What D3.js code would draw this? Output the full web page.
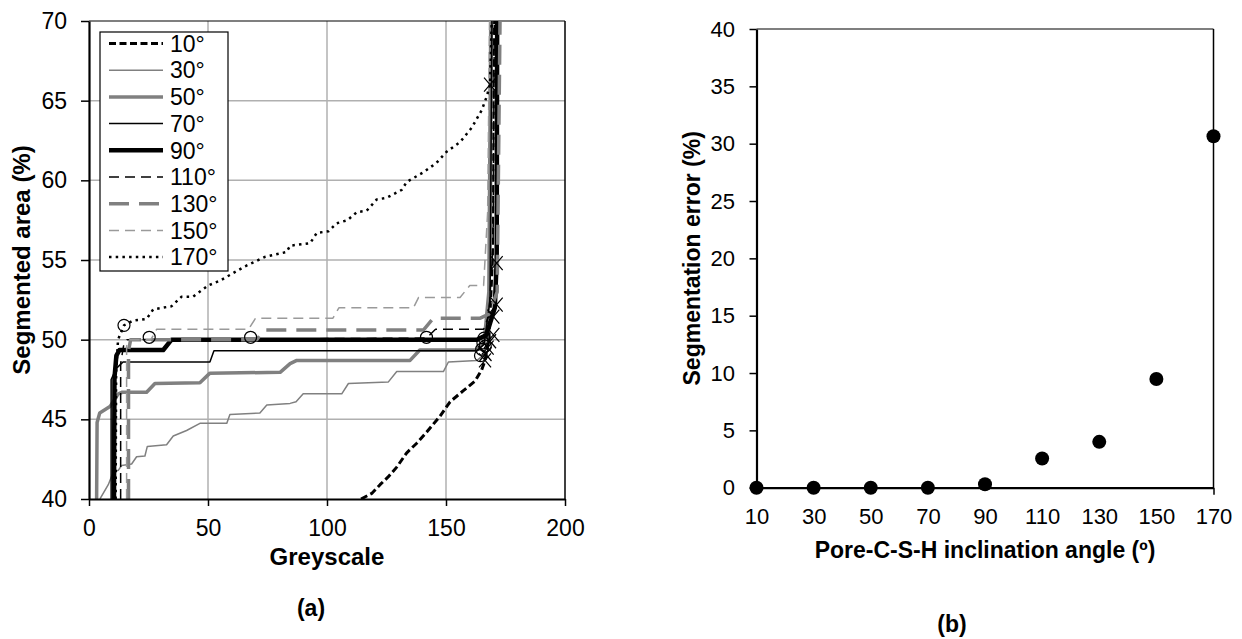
<!DOCTYPE html>
<html>
<head>
<meta charset="utf-8">
<script src="https://cdn.jsdelivr.net/npm/d3@7"></script>
<style>
  body { margin: 0; background: #fff; }
  svg { display: block; font-family: "Liberation Sans", Arial, sans-serif; }
</style>
</head>
<body>
<script>
// ---- data (a): segmented area vs greyscale, one curve per angle ----
var angleNames = ['10°', '30°', '50°', '70°', '90°', '110°', '130°', '150°', '170°'];

var s10 = [[114.3,40],[118.8,40.35],[122.3,40.9],[125.8,41.4],[129.3,42.0],[133.5,42.9],[137.7,43.5],[141.9,44.2],[147.5,45.2],[151.7,46.1],[157.3,46.8],[162.2,47.4],[165,48.1],[166.4,48.7],[168,50],[169.5,55],[170,70]];
var s30 = [[4.6,40],[8.1,40.9],[10.2,41.7],[12.3,41.8],[13.7,42.1],[17.9,42.2],[20,42.65],[23.5,42.7],[24.5,43.3],[32.6,43.4],[35.4,43.95],[41,44.3],[46.6,44.75],[57.9,44.75],[59.2,45.3],[71.8,45.4],[74.7,45.9],[84.5,46.0],[87,46.1],[90,46.6],[106.2,46.6],[109,47.25],[125.8,47.35],[129.3,48.0],[148.9,48.0],[151,48.6],[163,48.7],[165.5,49.0],[167.5,50],[169,56],[169.5,70]];
var s50 = [[3.2,40],[3.4,44.8],[4.5,45.4],[8.8,45.8],[12.3,46.6],[14,46.7],[24.2,46.7],[27.7,47.25],[46.6,47.3],[50.8,47.9],[80.3,47.95],[84.5,48.5],[87.3,48.7],[134.9,48.7],[139,49.35],[162.8,49.35],[166,49.8],[168,53],[168.8,70]];
var s70 = [[9.3,40],[9.3,47.5],[11.5,48.2],[14.3,48.6],[50.8,48.6],[52.5,49.3],[162.8,49.3],[166,49.7],[168.5,52.5],[169.3,70]];
var s90 = [[10.5,40],[10.7,47.6],[11.5,49.0],[12.8,49.35],[31.2,49.35],[34.7,50.0],[163,50],[167,50.3],[170.5,52],[171.3,55],[171.5,70]];
var s110 = [[13.3,40],[13.3,48.5],[14.5,49.6],[16,50],[141.8,50.1],[145.6,50.65],[165.8,50.65],[168,51.5],[169.8,56],[170.3,70]];
var s130 = [[16.6,40],[16.6,49.3],[17.5,50],[70.5,50],[73.5,50.6],[140.5,50.6],[144.7,51.35],[164.4,51.35],[168,51.6],[171.5,53],[172.7,70]];
var s150 = [[15.8,40],[15.8,49.6],[17,50],[26,50],[28.4,50.65],[67,50.65],[70,51.35],[102.5,51.35],[105,52.0],[136.3,52.0],[138.5,52.65],[155.9,52.65],[160,53.4],[165.8,53.4],[167.5,58],[168.3,70]];
var s170 = [[11.2,40],[11.4,47.9],[12.2,50],[14.7,50.9],[18.6,51.2],[24.2,51.3],[27,51.9],[34.7,52.1],[38.9,52.7],[43.8,52.7],[50.1,53.4],[55,53.7],[65.5,54.6],[74,55.2],[83,55.5],[84.5,55.9],[92.9,56.05],[95.7,56.7],[100.6,56.8],[104,57.3],[108.6,57.5],[112.5,58.0],[116.7,58.1],[120.9,58.8],[125,58.9],[131.4,59.4],[133.5,59.9],[140.5,60.5],[146,61.1],[150.3,61.8],[155.9,62.4],[160.8,63.3],[165,64.4],[167.1,65.25],[168.5,66.0],[169.2,70]];
var curves = [s10, s30, s50, s70, s90, s110, s130, s150, s170];

// plateau start (circles) and end (crosses) points
var startPts = [[14.7,50.9],[25.3,50.15],[67.9,50.15],[141.8,50.15],[164.5,49.0],[165,49.4],[165.5,49.8],[166,50.1],[166.5,49.6]];
var endPts = [[168.5,66.0],[171.3,54.8],[171.3,52.2],[169.9,51.45],[169.9,50.3],[168.5,49.9],[167.5,49.5],[166.6,49.1],[166.4,48.7]];

var greyTicks = [0, 50, 100, 150, 200];
var areaTicks = [40, 45, 50, 55, 60, 65, 70];

// ---- data (b): segmentation error vs inclination angle ----
var angles = [10, 30, 50, 70, 90, 110, 130, 150, 170];
var segError = [0, 0, 0, 0, 0.3, 2.55, 4.0, 9.48, 30.65];
var errTicks = [0, 5, 10, 15, 20, 25, 30, 35, 40];

// line styles, same order as angleNames
var styles = [
	{ color: '#000', width: 3, dash: '7,3.5' },
	{ color: '#808080', width: 1.5, dash: null },
	{ color: '#808080', width: 3.5, dash: null },
	{ color: '#000', width: 1.5, dash: null },
	{ color: '#000', width: 4.5, dash: null },
	{ color: '#000', width: 1.5, dash: '10,6' },
	{ color: '#808080', width: 3.5, dash: '20,10' },
	{ color: '#9a9a9a', width: 1.5, dash: '10,6' },
	{ color: '#000', width: 2.5, dash: '2.5,4.2' }
];

var svg = d3.select('body').append('svg')
	.attr('width', 1242)
	.attr('height', 639);

// ================= chart (a) =================
var xa = d3.scaleLinear().domain([0, 200]).range([89, 565]);
var ya = d3.scaleLinear().domain([40, 70]).range([499, 21]);

var ga = svg.append('g');

// grid
ga.append('g').selectAll('line.vg')
	.data(greyTicks.slice(1, -1))
	.enter().append('line')
	.attr('x1', function(d) { return xa(d); })
	.attr('x2', function(d) { return xa(d); })
	.attr('y1', ya(40)).attr('y2', ya(70))
	.attr('stroke', '#b0b0b0').attr('stroke-width', 1.5);
ga.append('g').selectAll('line.hg')
	.data(areaTicks.slice(1, -1))
	.enter().append('line')
	.attr('y1', function(d) { return ya(d); })
	.attr('y2', function(d) { return ya(d); })
	.attr('x1', xa(0)).attr('x2', xa(200))
	.attr('stroke', '#b0b0b0').attr('stroke-width', 1.5);

// frame
ga.append('line').attr('x1', xa(0)).attr('x2', xa(200)).attr('y1', ya(70)).attr('y2', ya(70))
	.attr('stroke', '#000').attr('stroke-width', 1.2);
ga.append('line').attr('x1', xa(200)).attr('x2', xa(200)).attr('y1', ya(70)).attr('y2', ya(40))
	.attr('stroke', '#000').attr('stroke-width', 1.5);

ga.append('clipPath').attr('id', 'clipA')
	.append('rect')
	.attr('x', xa(0)).attr('y', ya(70))
	.attr('width', xa(200) - xa(0)).attr('height', ya(40) - ya(70));

var line = d3.line()
	.x(function(d) { return xa(d[0]); })
	.y(function(d) { return ya(d[1]); });

var plotA = ga.append('g').attr('clip-path', 'url(#clipA)');
curves.forEach(function(c, i) {
	var st = styles[i];
	plotA.append('path')
		.datum(c)
		.attr('d', line)
		.attr('fill', 'none')
		.attr('stroke', st.color)
		.attr('stroke-width', st.width)
		.attr('stroke-dasharray', st.dash)
		.attr('stroke-linejoin', 'round');
});

// markers
ga.append('g').selectAll('circle')
	.data(startPts)
	.enter().append('circle')
	.attr('cx', function(d) { return xa(d[0]); })
	.attr('cy', function(d) { return ya(d[1]); })
	.attr('r', 6)
	.attr('fill', 'none')
	.attr('stroke', '#000')
	.attr('stroke-width', 1.2);
ga.append('g').selectAll('path')
	.data(endPts)
	.enter().append('path')
	.attr('transform', function(d) { return 'translate(' + xa(d[0]) + ',' + ya(d[1]) + ')'; })
	.attr('d', 'M-6,-7L6,7M-6,7L6,-7')
	.attr('fill', 'none')
	.attr('stroke', '#000')
	.attr('stroke-width', 1.2);

// axes
var axXa = ga.append('g')
	.attr('transform', 'translate(0,' + ya(40) + ')')
	.call(d3.axisBottom(xa).tickValues(greyTicks).tickSize(7).tickPadding(14).tickSizeOuter(0));
var axYa = ga.append('g')
	.attr('transform', 'translate(' + xa(0) + ',0)')
	.call(d3.axisLeft(ya).tickValues(areaTicks).tickSize(8).tickPadding(14).tickSizeOuter(0));
[axXa, axYa].forEach(function(ax) {
	ax.select('.domain').attr('stroke', '#000').attr('stroke-width', 2.2);
	ax.selectAll('.tick line').attr('stroke', '#000').attr('stroke-width', 1.5);
	ax.selectAll('.tick text')
		.attr('fill', '#000')
		.style('font-size', '23px')
		.style('font-family', '"Liberation Sans", Arial, sans-serif');
});

ga.append('text')
	.attr('x', (xa(0) + xa(200)) / 2).attr('y', 565)
	.attr('text-anchor', 'middle')
	.style('font-size', '24px').style('font-weight', 'bold')
	.text('Greyscale');
ga.append('text')
	.attr('transform', 'translate(30,' + (ya(40) + ya(70)) / 2 + ') rotate(-90)')
	.attr('text-anchor', 'middle')
	.style('font-size', '24px').style('font-weight', 'bold')
	.text('Segmented area (%)');
ga.append('text')
	.attr('x', 311).attr('y', 616)
	.attr('text-anchor', 'middle')
	.style('font-size', '23px').style('font-weight', 'bold')
	.text('(a)');

// legend
var leg = ga.append('g');
leg.append('rect')
	.attr('x', 100).attr('y', 32)
	.attr('width', 128).attr('height', 239)
	.attr('fill', '#fff')
	.attr('stroke', '#000')
	.attr('stroke-width', 1.2);
angleNames.forEach(function(name, i) {
	var st = styles[i];
	var yy = 43.5 + i * 26.7;
	leg.append('line')
		.attr('x1', 109).attr('x2', 163)
		.attr('y1', yy).attr('y2', yy)
		.attr('stroke', st.color)
		.attr('stroke-width', st.width)
		.attr('stroke-dasharray', st.dash);
	leg.append('text')
		.attr('x', 170).attr('y', yy)
		.attr('dy', '0.36em')
		.style('font-size', '23px')
		.text(name);
});

// ================= chart (b) =================
var xb = d3.scaleLinear().domain([10, 170]).range([756.5, 1213.5]);
var yb = d3.scaleLinear().domain([0, 40]).range([487.7, 29]);

var gb = svg.append('g');

gb.append('line').attr('x1', xb(10)).attr('x2', xb(170)).attr('y1', yb(40)).attr('y2', yb(40))
	.attr('stroke', '#555').attr('stroke-width', 1.5);
gb.append('line').attr('x1', xb(170)).attr('x2', xb(170)).attr('y1', yb(40)).attr('y2', yb(0))
	.attr('stroke', '#000').attr('stroke-width', 1.5);

var axXb = gb.append('g')
	.attr('transform', 'translate(0,' + yb(0) + ')')
	.call(d3.axisBottom(xb).tickValues(angles).tickSize(0).tickPadding(20.5).tickSizeOuter(0));
var axXbTick = gb.append('g')
	.attr('transform', 'translate(0,' + yb(0) + ')')
	.call(d3.axisBottom(xb).tickValues([170]).tickSize(7).tickFormat('').tickSizeOuter(0));
axXbTick.select('.domain').remove();
var axYb = gb.append('g')
	.attr('transform', 'translate(' + xb(10) + ',0)')
	.call(d3.axisLeft(yb).tickValues(errTicks).tickSize(7).tickPadding(14.5).tickSizeOuter(0));
[axXb, axXbTick, axYb].forEach(function(ax) {
	ax.select('.domain').attr('stroke', '#000').attr('stroke-width', 2.2);
	ax.selectAll('.tick line').attr('stroke', '#000').attr('stroke-width', 1.5);
	ax.selectAll('.tick text')
		.attr('fill', '#000')
		.style('font-size', '22px')
		.style('font-family', '"Liberation Sans", Arial, sans-serif');
});

gb.append('g').selectAll('circle')
	.data(angles)
	.enter().append('circle')
	.attr('cx', function(d) { return xb(d); })
	.attr('cy', function(d, i) { return yb(segError[i]); })
	.attr('r', 7)
	.attr('fill', '#000');

gb.append('text')
	.attr('x', (xb(10) + xb(170)) / 2).attr('y', 557.5)
	.attr('text-anchor', 'middle')
	.style('font-size', '23px').style('font-weight', 'bold')
	.text('Pore-C-S-H inclination angle (º)');
gb.append('text')
	.attr('transform', 'translate(700,' + (yb(0) + yb(40)) / 2 + ') rotate(-90)')
	.attr('text-anchor', 'middle')
	.style('font-size', '23px').style('font-weight', 'bold')
	.text('Segmentation error (%)');
gb.append('text')
	.attr('x', 952).attr('y', 632)
	.attr('text-anchor', 'middle')
	.style('font-size', '23px').style('font-weight', 'bold')
	.text('(b)');
</script>
</body>
</html>
